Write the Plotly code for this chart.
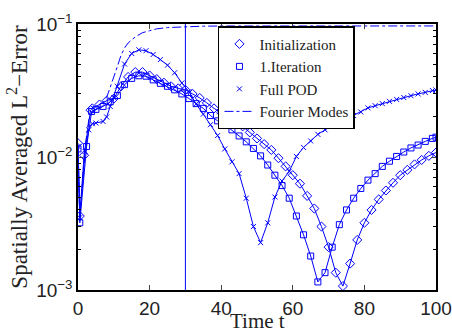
import plotly.graph_objects as go

# ---- data ----
t_init = [0, 0.5, 1.7, 3.5, 4, 6, 8, 10, 12, 14, 16, 18, 20, 22, 24, 26, 28, 30, 32, 34, 36, 38,
          40, 42, 44, 46, 48, 50, 52, 54, 56, 58, 60, 62, 64, 66, 68, 70, 72, 74, 76, 78,
          80, 82, 84, 86, 88, 90, 92, 94, 96, 98, 100]
e_init = [0.0127, 0.0036, 0.0103, 0.0225, 0.0232, 0.0248, 0.0265, 0.0275, 0.034, 0.040, 0.0435,
          0.0435, 0.041, 0.0385, 0.0362, 0.034, 0.0328, 0.032, 0.0298, 0.0278, 0.0255, 0.0232,
          0.0215, 0.0198, 0.0183, 0.0170, 0.0153, 0.0138, 0.0125, 0.0113, 0.0098, 0.0085,
          0.0073, 0.0063, 0.0051, 0.0041, 0.0030, 0.0021, 0.00135, 0.00107, 0.00158, 0.00238,
          0.0032, 0.0040, 0.0048, 0.0056, 0.0064, 0.0073, 0.0080, 0.0088, 0.0095, 0.0102, 0.0108]

t_iter = [0, 0.5, 2.4, 3.8, 5, 7, 9, 11, 13, 15, 17, 19, 21, 23, 25, 27, 29, 31, 33, 35, 37, 39,
          41, 43, 45, 47, 49, 51, 53, 55, 57, 59, 61, 63, 65, 67, 69, 71, 73, 75, 77, 79,
          81, 83, 85, 87, 89, 91, 93, 95, 97, 99, 100]
e_iter = [0.0115, 0.0032, 0.012, 0.022, 0.0228, 0.024, 0.026, 0.029, 0.035, 0.039, 0.0408,
          0.0405, 0.038, 0.0358, 0.034, 0.032, 0.0298, 0.0275, 0.0252, 0.0232, 0.0205, 0.0187,
          0.0175, 0.016, 0.0144, 0.013, 0.0116, 0.0102, 0.0087, 0.0073, 0.0061, 0.0049,
          0.0036, 0.0026, 0.0018, 0.00115, 0.00135, 0.0021, 0.0031, 0.0040, 0.0049, 0.0058,
          0.0067, 0.0075, 0.0085, 0.0093, 0.0101, 0.0109, 0.0117, 0.0123, 0.0131, 0.0138, 0.0141]

t_pod = [0, 0.5, 2, 3, 4, 5, 7, 8, 9, 10, 11, 13, 15, 17, 19, 21, 23, 25, 27, 29, 31, 33, 35, 37,
         39, 41, 43, 45, 47, 49, 51, 53, 55, 57, 59, 61, 63, 65, 67, 69, 71, 73, 75, 77, 79,
         81, 83, 85, 87, 89, 91, 93, 95, 97, 99, 100]
e_pod = [0.012, 0.0035, 0.011, 0.016, 0.0178, 0.018, 0.0185, 0.020, 0.024, 0.028, 0.034, 0.050,
         0.060, 0.064, 0.063, 0.059, 0.054, 0.049, 0.043, 0.036, 0.031, 0.025, 0.021, 0.0175,
         0.0145, 0.0115, 0.0092, 0.0075, 0.0049, 0.0030, 0.00227, 0.0032, 0.0050, 0.0066,
         0.0078, 0.0101, 0.0118, 0.0132, 0.0148, 0.0160, 0.0172, 0.0183, 0.0193, 0.0205,
         0.0218, 0.0234, 0.0243, 0.0252, 0.0262, 0.0271, 0.0280, 0.0289, 0.0298, 0.0306,
         0.0316, 0.0319]

t_four = [0, 0.5, 2, 3, 4, 6, 8, 9, 10, 11, 12, 13, 14, 16, 18, 20, 22, 25, 30, 35, 40, 50, 100]
e_four = [0.012, 0.0035, 0.012, 0.019, 0.022, 0.0235, 0.028, 0.033, 0.040, 0.048, 0.058, 0.066,
          0.072, 0.080, 0.086, 0.089, 0.092, 0.094, 0.0955, 0.0963, 0.0966, 0.0967, 0.0967]

t_mark = 30
names = ["Initialization", "1.Iteration", "Full POD", "Fourier Modes"]
x_ticks = [0, 20, 40, 60, 80, 100]
y_ticks = [1e-3, 1e-2, 1e-1]
y_tick_text = ["10<sup>−3</sup>", "10<sup>−2</sup>", "10<sup>−1</sup>"]
y_minor = [2e-3, 3e-3, 4e-3, 5e-3, 6e-3, 7e-3, 8e-3, 9e-3,
           2e-2, 3e-2, 4e-2, 5e-2, 6e-2, 7e-2, 8e-2, 9e-2]

BLUE = "#0000ff"
SERIF = "Liberation Serif"
SANS = "Liberation Sans"

mk_init = dict(symbol="diamond-open", size=7, color=BLUE, line=dict(color=BLUE, width=1))
mk_iter = dict(symbol="square-open", size=6, color=BLUE, line=dict(color=BLUE, width=1))
mk_pod = dict(symbol="x-thin-open", size=5, color=BLUE, line=dict(color=BLUE, width=1))

fig = go.Figure()
fig.add_trace(go.Scatter(x=t_four, y=e_four, mode="lines", showlegend=False,
                         line=dict(color=BLUE, width=1, dash="dashdot")))
fig.add_trace(go.Scatter(x=t_pod, y=e_pod, mode="lines+markers", showlegend=False,
                         line=dict(color=BLUE, width=1), marker=mk_pod))
fig.add_trace(go.Scatter(x=t_iter, y=e_iter, mode="lines+markers", showlegend=False,
                         line=dict(color=BLUE, width=1), marker=mk_iter))
fig.add_trace(go.Scatter(x=t_init, y=e_init, mode="lines+markers", showlegend=False,
                         line=dict(color=BLUE, width=1), marker=mk_init))

# legend entries
fig.add_trace(go.Scatter(x=[None], y=[None], mode="markers", name=names[0], marker=mk_init))
fig.add_trace(go.Scatter(x=[None], y=[None], mode="markers", name=names[1], marker=mk_iter))
fig.add_trace(go.Scatter(x=[None], y=[None], mode="markers", name=names[2], marker=mk_pod))
fig.add_trace(go.Scatter(x=[None], y=[None], mode="lines", name=names[3],
                         line=dict(color=BLUE, width=1, dash="dashdot")))

fig.add_shape(type="line", xref="x", yref="paper", x0=t_mark, x1=t_mark, y0=0, y1=1,
              line=dict(color=BLUE, width=1))

fig.add_annotation(text="Time t", xref="paper", yref="paper", x=0.5, y=-0.116,
                   xanchor="center", yanchor="middle", showarrow=False,
                   font=dict(family=SERIF, size=21, color="#222"))

fig.update_layout(
    width=452, height=332,
    margin=dict(l=78, r=16, t=24, b=42),
    paper_bgcolor="white", plot_bgcolor="white",
    showlegend=True,
    legend=dict(x=0.391, y=0.992, xanchor="left", yanchor="top",
                bgcolor="white", bordercolor="black", borderwidth=1.5,
                font=dict(family=SERIF, size=15, color="#222"),
                tracegroupgap=0),
    xaxis=dict(range=[0, 100], tickvals=x_ticks, ticks="inside", ticklen=5,
               showline=True, mirror="ticks", linecolor="black", linewidth=1.5,
               showgrid=False, zeroline=False, automargin=False,
               ticklabeloverflow="allow",
               tickfont=dict(family=SANS, size=19, color="#222")),
    yaxis=dict(type="log", range=[-3, -1], tickvals=y_ticks, ticktext=y_tick_text,
               ticks="inside", ticklen=5,
               showline=True, mirror="ticks", linecolor="black", linewidth=1.5,
               showgrid=False, zeroline=False, automargin=False,
               minor=dict(ticks="inside", ticklen=3, tickcolor="black", tickvals=y_minor),
               tickfont=dict(family=SANS, size=19, color="#222"),
               title=dict(text="Spatially Averaged L<sup>2</sup>−Error",
                          font=dict(family=SERIF, size=23, color="#222"), standoff=2)),
)

fig.write_html("out.html")
